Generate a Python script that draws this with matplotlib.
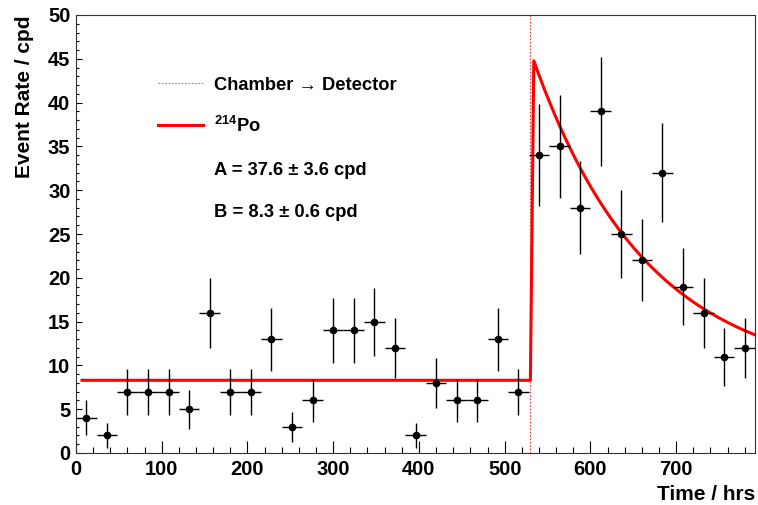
import numpy as np
import matplotlib
matplotlib.use("Agg")
import matplotlib.pyplot as plt
from matplotlib.ticker import MultipleLocator

plt.rcParams['font.family'] = ['Liberation Sans', 'DejaVu Sans']
plt.rcParams['font.weight'] = 'bold'
plt.rcParams['mathtext.fontset'] = 'custom'
plt.rcParams['mathtext.rm'] = 'Liberation Sans:bold'
plt.rcParams['mathtext.bf'] = 'Liberation Sans:bold'
plt.rcParams['mathtext.it'] = 'Liberation Sans:bold:italic'

# daily bins (24 hrs), counts per day
bin_centers = [12, 36, 60, 84, 108, 132, 156, 180, 204, 228, 252, 276, 300, 324, 348, 372,
               396, 420, 444, 468, 492, 516, 540, 564, 588, 612, 636, 660, 684, 708, 732,
               756, 780]
rates = [4, 2, 7, 7, 7, 5, 16, 7, 7, 13, 3, 6, 14, 14, 15, 12,
         2, 8, 6, 6, 13, 7, 34, 35, 28, 39, 25, 22, 32, 19, 16,
         11, 12]
bin_half_width = 12

# fit parameters
A = 37.6
B = 8.3
t_switch = 530.0     # chamber -> detector
tau_rn = 132.3       # Rn-222 mean life in hrs
fit_start = 7.0
x_max = 792

legend_labels = [
    'Chamber \u2192 Detector',
    '$^{214}$Po',
    'A = 37.6 \u00b1 3.6 cpd',
    'B = 8.3 \u00b1 0.6 cpd',
]

t = np.array(bin_centers, dtype=float)
y = np.array(rates, dtype=float)
yerr = np.sqrt(y)

fig = plt.figure(figsize=(7.58, 5.05), dpi=100)
ax = fig.add_axes([76 / 758, 52 / 505, 679 / 758, 438 / 505])

# fit curve: flat background, then exponential decay after the switch
t_before = np.linspace(fit_start, t_switch, 200)
t_after = np.linspace(t_switch + 4, x_max, 300)
t_fit = np.concatenate([t_before, t_after])
y_fit = np.where(t_fit <= t_switch, B, B + A * np.exp(-(t_fit - t_switch) / tau_rn))
ax.plot(t_fit, y_fit, color='#ff0000', lw=2.2, zorder=3)

dotted = (0, (1.5, 1.5))
ax.axvline(t_switch, color='#ff3333', lw=0.8, ls=dotted, zorder=2)

ax.errorbar(t, y, xerr=bin_half_width, yerr=yerr, fmt='o', color='black',
            ms=4.5, elinewidth=1.0, capsize=0, zorder=4)

ax.set_xlim(0, x_max)
ax.set_ylim(0, 50)
ax.xaxis.set_major_locator(MultipleLocator(100))
ax.xaxis.set_minor_locator(MultipleLocator(20))
ax.yaxis.set_major_locator(MultipleLocator(5))
ax.yaxis.set_minor_locator(MultipleLocator(1))
ax.tick_params(axis='x', which='major', direction='in', length=9, width=0.8,
               labelsize=14.5, pad=5)
ax.tick_params(axis='x', which='minor', direction='in', length=4.5, width=0.8)
ax.tick_params(axis='y', which='major', direction='in', length=4.5, width=0.8,
               labelsize=14.5, pad=4)
ax.tick_params(axis='y', which='minor', direction='in', length=2.2, width=0.8)
for spine in ax.spines.values():
    spine.set_linewidth(0.8)
    spine.set_color('#333333')

ax.set_xlabel('Time / hrs', fontsize=15, fontweight='bold', loc='right', labelpad=4)
ax.set_ylabel('Event Rate / cpd', fontsize=15, fontweight='bold', loc='top', labelpad=10)

# legend, drawn by hand (ROOT TLegend style)
row_y = [0.845, 0.749, 0.651, 0.555]
handle_x = [0.121, 0.187]
text_x = 0.203
ax.plot(handle_x, [row_y[0]] * 2, transform=ax.transAxes, color='#ff5555',
        lw=0.8, ls=dotted)
ax.plot(handle_x, [row_y[1]] * 2, transform=ax.transAxes, color='#ff0000', lw=2.2)
for ry, label in zip(row_y, legend_labels):
    ax.text(text_x, ry - 0.0155, label, transform=ax.transAxes, fontsize=13.2,
            fontweight='bold', va='baseline', ha='left')

fig.savefig('out.png', dpi=100)
